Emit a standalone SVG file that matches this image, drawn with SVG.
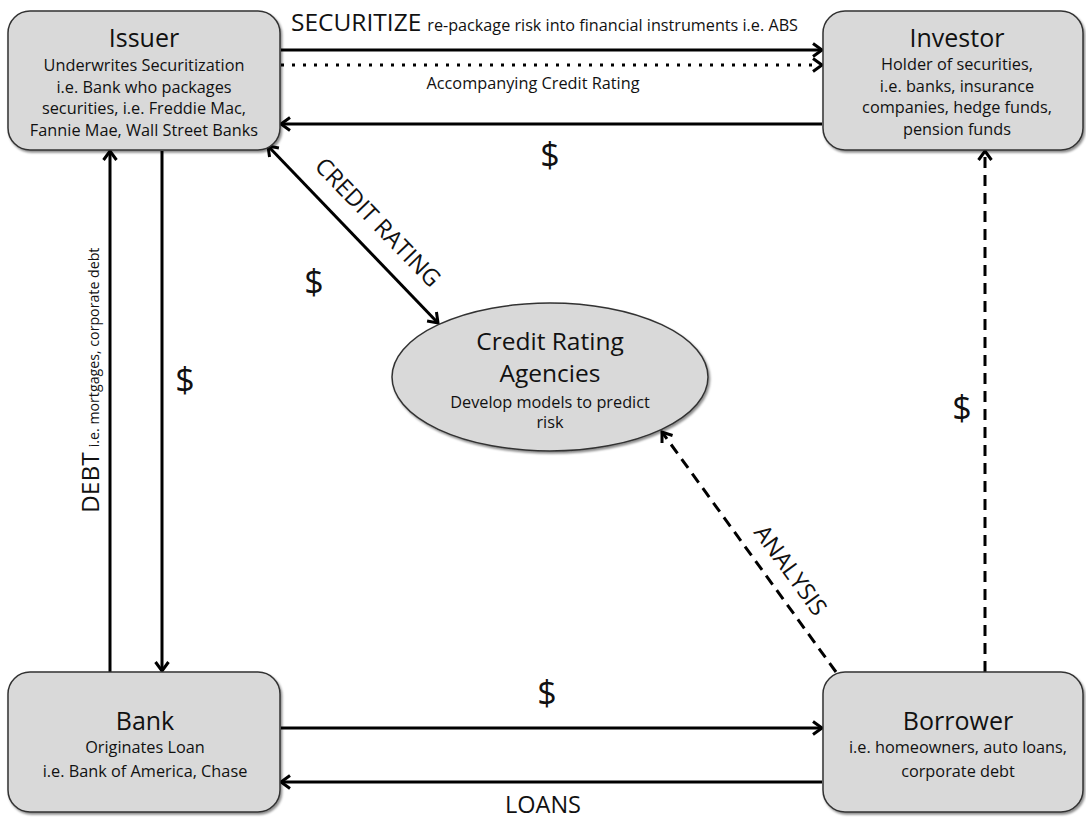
<svg xmlns="http://www.w3.org/2000/svg" width="1086" height="818" viewBox="0 0 1086 818">
<defs>
<style>
text{font-family:"Open Sans",Lato,"Liberation Sans",sans-serif;fill:#111;}
.box{fill:#d9d9d9;stroke:#333;stroke-width:1.5;}
.title{font-size:25px;text-anchor:middle;}
.etitle{font-size:24.5px;text-anchor:middle;}
.sub{font-size:16.3px;text-anchor:middle;}
.big{font-size:24.5px;}
.small{font-size:16.2px;}
.dsmall{font-size:14.2px;}
.lbl{font-size:23.5px;}
.dollar{font-size:34px;text-anchor:middle;}
.con{stroke:#000;stroke-width:3;fill:none;}
.dot{stroke-dasharray:3 8;}
.dash{stroke-dasharray:11 7;}
</style>
<marker id="ah" markerWidth="16" markerHeight="16" refX="13" refY="8" orient="auto-start-reverse" markerUnits="userSpaceOnUse">
<path d="M4,1.5 L13,8 L4,14.5" fill="none" stroke="#000" stroke-width="3"/>
</marker>
<filter id="sh" x="-5%" y="-5%" width="110%" height="115%">
<feDropShadow dx="1.5" dy="2" stdDeviation="1.2" flood-color="#000" flood-opacity="0.45"/>
</filter>
</defs>
<rect width="1086" height="818" fill="#fff"/>

<g id="connectors">
<line class="con" x1="281" y1="50" x2="822" y2="50" marker-end="url(#ah)"/>
<line class="con dot" x1="281" y1="65" x2="822" y2="65" marker-end="url(#ah)"/>
<line class="con" x1="822" y1="124" x2="281" y2="124" marker-end="url(#ah)"/>
<line class="con" x1="268" y1="146" x2="438" y2="323" marker-start="url(#ah)" marker-end="url(#ah)"/>
<line class="con" x1="110" y1="672" x2="110" y2="151" marker-end="url(#ah)"/>
<line class="con" x1="162" y1="151" x2="162" y2="671" marker-end="url(#ah)"/>
<line class="con" x1="281" y1="728" x2="822" y2="728" marker-end="url(#ah)"/>
<line class="con" x1="822" y1="782" x2="281" y2="782" marker-end="url(#ah)"/>
<line class="con dash" x1="985" y1="672" x2="985" y2="151" marker-end="url(#ah)"/>
<line class="con dash" x1="836" y1="672" x2="662" y2="432" marker-end="url(#ah)"/>

<text x="291" y="31"><tspan class="big">SECURITIZE</tspan><tspan class="small" dx="6">re-package risk into financial instruments i.e. ABS</tspan></text>
<text class="sub" x="533" y="89">Accompanying Credit Rating</text>
<text class="dollar" x="550" y="167">$</text>
<text class="lbl" transform="translate(372,228) rotate(46)" text-anchor="middle">CREDIT RATING</text>
<text class="dollar" x="314" y="294">$</text>
<text transform="translate(99,513) rotate(-90)"><tspan class="big">DEBT</tspan><tspan class="dsmall" dx="5">i.e. mortgages, corporate debt</tspan></text>
<text class="dollar" x="185" y="392">$</text>
<text class="dollar" x="962" y="420">$</text>
<text class="lbl" transform="translate(784,575) rotate(54)" text-anchor="middle">ANALYSIS</text>
<text class="dollar" x="547" y="705">$</text>
<text class="lbl" x="543" y="813" text-anchor="middle">LOANS</text>
</g>

<g id="issuer">
<rect class="box" filter="url(#sh)" x="8" y="11" width="272" height="139" rx="22"/>
<text class="title" x="144" y="47">Issuer</text>
<text class="sub" x="144" y="71">Underwrites Securitization</text>
<text class="sub" x="144" y="93">i.e. Bank who packages</text>
<text class="sub" x="144" y="114">securities, i.e. Freddie Mac,</text>
<text class="sub" x="144" y="136">Fannie Mae, Wall Street Banks</text>
</g>

<g id="investor">
<rect class="box" filter="url(#sh)" x="823" y="11" width="260" height="139" rx="22"/>
<text class="title" x="957" y="47">Investor</text>
<text class="sub" x="957" y="70">Holder of securities,</text>
<text class="sub" x="957" y="92">i.e. banks, insurance</text>
<text class="sub" x="957" y="113">companies, hedge funds,</text>
<text class="sub" x="957" y="135">pension funds</text>
</g>

<g id="agencies">
<ellipse class="box" filter="url(#sh)" cx="550" cy="377" rx="158" ry="74"/>
<text class="etitle" x="550" y="350">Credit Rating</text>
<text class="etitle" x="550" y="382">Agencies</text>
<text class="sub" x="550" y="408">Develop models to predict</text>
<text class="sub" x="550" y="428">risk</text>
</g>

<g id="bank">
<rect class="box" filter="url(#sh)" x="8" y="672" width="272" height="140" rx="22"/>
<text class="title" x="145" y="730">Bank</text>
<text class="sub" x="145" y="753">Originates Loan</text>
<text class="sub" x="145" y="777">i.e. Bank of America, Chase</text>
</g>

<g id="borrower">
<rect class="box" filter="url(#sh)" x="823" y="672" width="260" height="140" rx="22"/>
<text class="title" x="958" y="730">Borrower</text>
<text class="sub" x="958" y="753">i.e. homeowners, auto loans,</text>
<text class="sub" x="958" y="777">corporate debt</text>
</g>
</svg>
